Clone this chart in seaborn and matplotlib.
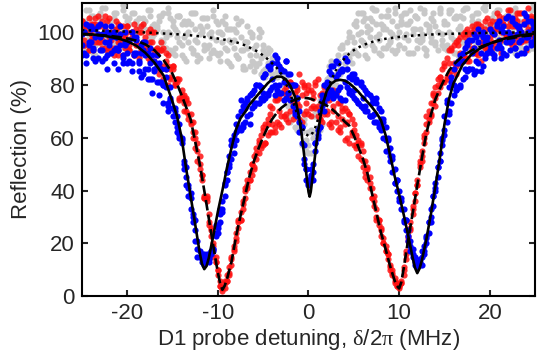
import pandas as pd
import matplotlib
matplotlib.use("Agg")
import matplotlib.pyplot as plt
import seaborn as sns

# --- measured sweeps: detuning (MHz) and reflection (%) ---
DOT_X = [-25, -24.75, -24.5, -24.25, -24, -23.75, -23.5, -23.25, -23, -22.75, -22.5, -22.25, -22, -21.75, -21.5, -21.25, -21, -20.75, -20.5, -20.25,
         -20, -19.75, -19.5, -19.25, -19, -18.75, -18.5, -18.25, -18, -17.75, -17.5, -17.25, -17, -16.75, -16.5, -16.25, -16, -15.75, -15.5, -15.25,
         -15, -14.75, -14.5, -14.25, -14, -13.75, -13.5, -13.25, -13, -12.75, -12.5, -12.25, -12, -11.75, -11.5, -11.25, -11, -10.75, -10.5, -10.25,
         -10, -9.75, -9.5, -9.25, -9, -8.75, -8.5, -8.25, -8, -7.75, -7.5, -7.25, -7, -6.75, -6.5, -6.25, -6, -5.75, -5.5, -5.25,
         -5, -4.75, -4.5, -4.25, -4, -3.75, -3.5, -3.25, -3, -2.75, -2.5, -2.25, -2, -1.75, -1.5, -1.25, -1, -0.75, -0.5, -0.25,
         0, 0.25, 0.5, 0.75, 1, 1.25, 1.5, 1.75, 2, 2.25, 2.5, 2.75, 3, 3.25, 3.5, 3.75, 4, 4.25, 4.5, 4.75,
         5, 5.25, 5.5, 5.75, 6, 6.25, 6.5, 6.75, 7, 7.25, 7.5, 7.75, 8, 8.25, 8.5, 8.75, 9, 9.25, 9.5, 9.75,
         10, 10.25, 10.5, 10.75, 11, 11.25, 11.5, 11.75, 12, 12.25, 12.5, 12.75, 13, 13.25, 13.5, 13.75, 14, 14.25, 14.5, 14.75,
         15, 15.25, 15.5, 15.75, 16, 16.25, 16.5, 16.75, 17, 17.25, 17.5, 17.75, 18, 18.25, 18.5, 18.75, 19, 19.25, 19.5, 19.75,
         20, 20.25, 20.5, 20.75, 21, 21.25, 21.5, 21.75, 22, 22.25, 22.5, 22.75, 23, 23.25, 23.5, 23.75, 24, 24.25, 24.5, 24.75, 25]

# no atoms (grey), three sweeps
GREY_A = [97, 104, 94, 101, 106, 99, 95, 103, 107, 96, 102, 93, 104, 98, 105, 100, 94, 102, 96, 106,
          97, 105, 98, 100, 95, 102, 93, 103, 101, 96, 106, 102, 99, 94, 104, 97, 107, 98, 100, 105,
          104, 94, 100, 106, 91, 98, 103, 96, 107, 92, 101, 89, 99, 105, 95, 102, 90, 100, 93, 104,
          103, 92, 99, 106, 89, 97, 101, 94, 105, 90, 98, 87, 96, 102, 91, 99, 85, 95, 88, 100,
          95, 86, 92, 88, 84, 90, 83, 86, 80, 84, 76, 80, 73, 77, 69, 72, 66, 63, 65, 57,
          57, 63, 60, 68, 64, 72, 70, 77, 75, 83, 79, 88, 84, 91, 86, 94, 88, 96, 90, 98,
          96, 104, 91, 100, 107, 95, 102, 98, 109, 93, 103, 99, 106, 94, 101, 108, 97, 104, 92, 102,
          100, 106, 94, 103, 97, 108, 92, 101, 105, 96, 99, 107, 93, 102, 98, 104, 95, 100, 109, 97,
          103, 95, 107, 99, 92, 105, 97, 101, 108, 94, 100, 96, 106, 98, 93, 104, 100, 109, 95, 102,
          97, 105, 100, 108, 94, 102, 99, 106, 96, 103, 101, 107, 95, 104, 98, 100, 106, 93, 102, 99, 101]
GREY_B = [94, 103, 108, 98, 105, 92, 101, 106, 96, 109, 99, 93, 104, 102, 95, 107, 97, 100, 108, 94,
          94, 103, 107, 98, 104, 92, 100, 105, 95, 108, 98, 92, 103, 101, 94, 106, 96, 99, 107, 93,
          92, 101, 106, 96, 103, 90, 99, 104, 94, 107, 97, 91, 102, 100, 93, 105, 95, 98, 106, 92,
          91, 100, 104, 94, 101, 88, 96, 101, 91, 103, 93, 86, 96, 94, 87, 98, 88, 91, 98, 84,
          85, 91, 94, 85, 90, 79, 85, 87, 77, 85, 75, 68, 75, 72, 64, 72, 62, 62, 67, 55,
          54, 62, 68, 62, 70, 63, 73, 80, 75, 87, 81, 78, 89, 89, 84, 95, 88, 91, 98, 88,
          93, 102, 107, 97, 104, 91, 100, 105, 95, 108, 98, 92, 103, 101, 94, 106, 96, 99, 107, 93,
          95, 104, 107, 99, 103, 92, 101, 106, 97, 109, 98, 94, 103, 101, 96, 107, 96, 100, 108, 95,
          94, 103, 108, 98, 105, 92, 101, 106, 96, 109, 99, 93, 104, 102, 95, 107, 97, 100, 108, 94,
          95, 103, 107, 98, 104, 93, 100, 106, 96, 108, 99, 92, 103, 102, 94, 107, 97, 100, 108, 94, 101]
GREY_C = [104, 93, 100, 108, 97, 106, 91, 102, 105, 95, 109, 98, 92, 103, 107, 96, 101, 94, 110, 99,
          104, 93, 100, 107, 97, 105, 91, 101, 104, 95, 108, 98, 92, 102, 106, 96, 100, 94, 109, 99,
          102, 91, 98, 106, 95, 104, 89, 100, 103, 93, 107, 96, 90, 101, 105, 94, 99, 92, 108, 97,
          100, 89, 96, 103, 93, 101, 87, 97, 100, 90, 104, 93, 86, 96, 100, 89, 94, 87, 101, 90,
          93, 83, 88, 93, 84, 90, 77, 84, 84, 74, 83, 72, 66, 72, 74, 63, 65, 57, 69, 59,
          62, 54, 62, 70, 64, 74, 65, 77, 82, 76, 89, 82, 80, 89, 94, 86, 91, 86, 100, 92,
          103, 92, 99, 107, 96, 105, 90, 101, 104, 94, 108, 97, 91, 102, 106, 95, 100, 93, 109, 98,
          95, 103, 98, 107, 92, 104, 99, 106, 94, 101, 97, 108, 91, 100, 105, 96, 102, 93, 107, 99,
          104, 93, 100, 108, 97, 106, 91, 102, 105, 95, 109, 98, 92, 103, 107, 96, 101, 94, 110, 99,
          99, 105, 93, 101, 108, 96, 104, 91, 102, 106, 95, 109, 98, 92, 103, 107, 96, 101, 94, 110, 100]

# red, three sweeps
RED_A = [104, 97, 102, 93, 99, 103, 96, 106, 98, 94, 101, 104, 94, 99, 91, 101, 103, 96, 98, 94,
         102, 95, 100, 91, 97, 100, 93, 103, 94, 90, 96, 100, 89, 93, 84, 93, 94, 86, 87, 82,
         87, 81, 82, 74, 76, 76, 70, 73, 66, 60, 60, 58, 48, 46, 37, 36, 31, 23, 19, 13,
         10, 6, 3, 3, 8, 9, 14, 17, 24, 26, 32, 33, 40, 41, 47, 46, 53, 52, 59, 56,
         64, 58, 67, 62, 71, 64, 75, 65, 77, 68, 79, 66, 81, 67, 77, 73, 84, 66, 80, 70,
         80, 68, 77, 71, 82, 67, 76, 69, 79, 65, 75, 70, 77, 63, 73, 67, 71, 60, 69, 62,
         65, 56, 59, 52, 55, 47, 49, 41, 41, 34, 33, 27, 25, 20, 19, 14, 12, 8, 6, 4,
         3, 6, 10, 14, 23, 26, 33, 36, 44, 49, 55, 58, 65, 67, 73, 73, 79, 77, 83, 81,
         88, 83, 93, 85, 95, 87, 97, 88, 99, 90, 101, 89, 100, 92, 103, 91, 102, 95, 104, 93,
         98, 104, 95, 101, 106, 97, 103, 99, 108, 96, 102, 105, 98, 107, 100, 104, 97, 109, 101, 103, 99]
RED_B = [104, 95, 102, 93, 103, 98, 105, 96, 102, 97, 106, 93, 98, 100, 93, 104, 96, 102, 91, 98,
         102, 93, 100, 91, 101, 95, 102, 93, 98, 93, 101, 89, 93, 94, 86, 96, 87, 92, 80, 86,
         87, 80, 82, 75, 78, 73, 75, 67, 69, 62, 62, 51, 50, 46, 37, 38, 28, 26, 15, 15,
         8, 4, 2, 5, 6, 11, 12, 19, 21, 28, 29, 36, 37, 44, 44, 50, 49, 56, 54, 61,
         57, 65, 61, 69, 62, 74, 66, 75, 64, 78, 69, 76, 70, 80, 68, 79, 72, 81, 69, 77,
         69, 78, 72, 81, 68, 76, 66, 79, 70, 74, 64, 78, 66, 73, 62, 71, 65, 70, 58, 67,
         57, 61, 53, 57, 49, 51, 44, 45, 37, 36, 30, 29, 23, 22, 17, 16, 11, 10, 5, 5,
         4, 5, 8, 16, 21, 28, 31, 39, 42, 50, 53, 61, 62, 70, 69, 77, 75, 82, 79, 86,
         81, 90, 84, 93, 86, 96, 88, 98, 91, 100, 90, 99, 94, 101, 92, 103, 96, 100, 94, 105,
         103, 96, 101, 107, 94, 100, 105, 98, 102, 108, 99, 96, 104, 101, 107, 97, 103, 100, 106, 98, 104]
RED_C = [102, 95, 100, 105, 97, 93, 103, 99, 96, 104, 94, 100, 105, 97, 94, 101, 91, 99, 102, 95,
         100, 93, 98, 103, 95, 90, 100, 96, 92, 100, 89, 96, 100, 91, 87, 93, 82, 89, 91, 83,
         86, 80, 81, 82, 75, 70, 74, 69, 65, 66, 56, 55, 53, 44, 38, 37, 27, 25, 20, 13,
         10, 4, 3, 6, 6, 8, 15, 18, 22, 29, 29, 35, 41, 42, 44, 50, 48, 54, 58, 57,
         63, 58, 65, 72, 65, 62, 74, 70, 68, 77, 67, 75, 81, 73, 70, 78, 67, 76, 79, 73,
         78, 71, 75, 80, 72, 67, 77, 73, 69, 77, 66, 72, 77, 68, 64, 70, 59, 66, 69, 61,
         63, 57, 58, 58, 51, 45, 48, 43, 37, 38, 29, 29, 26, 20, 17, 16, 10, 9, 7, 4,
         4, 5, 11, 17, 22, 25, 34, 39, 42, 51, 51, 60, 68, 66, 68, 76, 72, 80, 83, 81,
         87, 82, 88, 94, 88, 84, 95, 92, 90, 98, 89, 96, 102, 94, 92, 99, 89, 98, 101, 95,
         101, 94, 99, 104, 96, 92, 103, 99, 96, 104, 95, 102, 107, 99, 96, 103, 93, 101, 105, 99, 104]

# blue, three sweeps
BLUE_A = [99, 92, 103, 95, 101, 90, 98, 102, 93, 99, 90, 100, 95, 102, 93, 98, 93, 102, 90, 95,
          96, 89, 100, 91, 97, 85, 92, 96, 86, 92, 82, 91, 85, 91, 81, 86, 80, 86, 72, 74,
          71, 66, 68, 60, 59, 48, 45, 42, 33, 31, 21, 21, 15, 16, 13, 15, 15, 17, 17, 23,
          27, 28, 36, 38, 47, 49, 57, 57, 62, 68, 63, 72, 66, 75, 69, 77, 72, 80, 73, 79,
          83, 75, 87, 78, 88, 76, 90, 80, 86, 74, 89, 77, 84, 72, 80, 68, 70, 58, 57, 44,
          44, 45, 50, 58, 63, 70, 72, 80, 75, 85, 78, 87, 76, 88, 79, 86, 74, 89, 77, 84,
          84, 74, 81, 72, 79, 70, 77, 68, 75, 66, 73, 64, 70, 60, 64, 55, 56, 47, 48, 40,
          40, 33, 33, 25, 25, 17, 18, 13, 12, 13, 15, 16, 23, 24, 33, 34, 43, 45, 54, 57,
          68, 66, 79, 73, 86, 78, 89, 80, 92, 83, 95, 86, 97, 84, 98, 88, 99, 87, 96, 92,
          101, 92, 99, 94, 104, 90, 100, 96, 106, 93, 97, 103, 91, 101, 97, 107, 94, 100, 104, 96, 102]
BLUE_B = [91, 100, 88, 96, 102, 94, 89, 99, 103, 89, 96, 86, 99, 92, 100, 94, 86, 95, 88, 100,
          88, 97, 85, 92, 98, 89, 83, 93, 96, 82, 88, 77, 89, 81, 88, 81, 73, 79, 70, 79,
          68, 70, 62, 61, 60, 51, 42, 41, 39, 28, 25, 15, 17, 13, 16, 14, 13, 16, 18, 27,
          24, 31, 33, 42, 44, 53, 52, 61, 59, 64, 70, 65, 73, 68, 76, 71, 78, 73, 80, 75,
          74, 84, 77, 86, 79, 91, 78, 87, 77, 85, 75, 84, 74, 80, 70, 75, 62, 64, 50, 48,
          42, 48, 47, 55, 60, 64, 74, 73, 81, 76, 84, 75, 89, 78, 85, 74, 90, 79, 83, 76,
          75, 82, 73, 80, 71, 78, 70, 76, 68, 74, 66, 71, 63, 67, 59, 59, 51, 52, 43, 44,
          36, 37, 29, 29, 21, 21, 15, 15, 11, 14, 12, 19, 20, 28, 30, 38, 40, 49, 51, 60,
          61, 74, 70, 81, 76, 88, 79, 91, 82, 94, 85, 97, 86, 99, 89, 101, 85, 100, 90, 98,
          93, 100, 90, 103, 95, 101, 92, 105, 97, 99, 104, 94, 102, 96, 100, 92, 106, 98, 95, 103, 97]
BLUE_C = [95, 100, 91, 102, 96, 93, 101, 90, 98, 93, 102, 91, 96, 98, 88, 98, 93, 99, 91, 96,
          92, 97, 88, 98, 92, 88, 95, 84, 91, 86, 94, 82, 86, 87, 76, 86, 80, 83, 73, 75,
          71, 71, 64, 65, 58, 50, 49, 38, 37, 30, 29, 18, 15, 15, 12, 16, 14, 17, 18, 24,
          26, 33, 32, 43, 47, 50, 59, 54, 65, 63, 74, 64, 71, 74, 65, 77, 73, 80, 73, 79,
          77, 84, 76, 87, 82, 80, 88, 77, 85, 81, 89, 77, 80, 80, 69, 75, 66, 64, 52, 48,
          43, 46, 44, 58, 61, 64, 76, 70, 79, 77, 87, 77, 83, 84, 75, 85, 81, 86, 78, 82,
          78, 81, 73, 81, 75, 72, 77, 68, 73, 69, 75, 65, 67, 66, 55, 60, 53, 53, 43, 44,
          37, 36, 28, 29, 23, 19, 16, 12, 13, 12, 17, 17, 22, 28, 28, 38, 41, 49, 51, 59,
          63, 73, 69, 83, 80, 78, 88, 79, 89, 86, 96, 86, 92, 94, 85, 96, 92, 98, 91, 96,
          95, 100, 91, 102, 97, 94, 102, 91, 100, 96, 105, 94, 99, 102, 92, 103, 98, 104, 96, 101, 98]

# --- fitted curves ---
FIT_X = [-25, -24, -23, -22, -21, -20, -19, -18, -17, -16, -15.5, -15, -14.5, -14, -13.5, -13, -12.5, -12,
         -11.75, -11.5, -11.25, -11, -10.5, -10, -9.75, -9.5, -9.25, -9, -8.5, -8, -7.5, -7, -6.5, -6,
         -5.5, -5, -4.5, -4, -3.5, -3, -2.5, -2, -1.5, -1, -0.75, -0.5, -0.25, 0, 0.125, 0.25, 0.5, 0.75,
         1, 1.5, 2, 2.5, 3, 3.5, 4, 4.5, 5, 5.5, 6, 6.5, 7, 7.5, 8, 8.5, 9, 9.5, 9.75, 10, 10.25, 10.5,
         11, 11.5, 11.75, 12, 12.25, 12.5, 13, 13.5, 14, 14.5, 15, 15.5, 16, 17, 18, 19, 20, 21, 22, 23, 24, 25]
BLUE_FIT = [99.2, 99.0, 98.6, 98.1, 97.4, 96.4, 94.7, 92.0, 88.3, 83.5, 78.5, 73.5, 68.0, 60.0, 48.3, 37.8, 27.2, 16.5,
            12.3, 10.3, 11.5, 14.5, 23.0, 32.0, 36.0, 40.0, 44.2, 48.5, 56.0, 63.0, 67.3, 69.6, 72.5, 74.5,
            76.5, 78.5, 80.5, 82.0, 83.0, 83.0, 82.0, 79.5, 75.5, 67.0, 61.0, 54.0, 46.5, 39.5, 37.7, 39.5, 46.5, 54.0,
            61.0, 71.5, 77.5, 80.3, 81.5, 81.8, 81.5, 80.5, 79.0, 77.3, 75.3, 73.5, 71.5, 69.3, 66.5, 61.0, 53.5, 45.5, 42.0, 38.5, 34.7, 31.0,
            23.0, 14.5, 10.8, 8.8, 10.5, 13.5, 21.5, 31.0, 41.5, 52.5, 65.0, 74.5, 80.5, 87.5, 91.5, 93.8, 95.5, 96.8, 97.7, 98.4, 98.9, 99.2]
RED_FIT = [99.0, 98.9, 98.7, 98.4, 98.0, 97.4, 96.6, 95.2, 93.0, 89.3, 86.8, 84.0, 80.2, 76.0, 71.5, 66.8, 58.5, 50.0,
           45.0, 40.0, 34.8, 29.5, 19.0, 9.0, 5.0, 2.5, 4.0, 6.5, 13.0, 22.5, 30.5, 38.0, 45.5, 51.3,
           56.0, 60.2, 64.0, 67.0, 69.3, 71.2, 72.5, 73.5, 74.3, 74.8, 74.9, 75.0, 74.9, 74.8, 74.7, 74.6, 74.3, 74.0,
           73.6, 73.0, 72.1, 71.0, 69.5, 67.8, 66.0, 64.5, 60.8, 56.5, 52.0, 46.5, 39.0, 31.5, 24.0, 18.0, 11.5, 6.0, 4.0, 3.0, 5.5, 10.5,
           21.5, 31.5, 36.8, 42.0, 47.0, 52.0, 61.5, 68.5, 74.5, 78.5, 82.0, 85.3, 87.5, 90.8, 92.9, 94.3, 95.5, 96.5, 97.3, 97.9, 98.4, 98.7]
GREY_FIT = [100.6, 100.5, 100.4, 100.2, 100.1, 100.0, 99.8, 99.7, 99.5, 99.3, 99.2, 99.1, 99.0, 98.9, 98.8, 98.6, 98.4, 98.2,
            98.1, 98.0, 97.9, 97.8, 97.6, 97.4, 97.25, 97.1, 96.95, 96.8, 96.4, 96.0, 95.5, 94.8, 94.0, 93.2,
            92.2, 91.0, 89.6, 88.0, 86.3, 84.0, 80.5, 76.5, 71.5, 66.5, 64.3, 62.5, 61.2, 60.6, 60.5, 60.9, 62.0, 63.8,
            66.4, 71.9, 77.2, 81.7, 85.2, 87.9, 90.0, 91.7, 93.0, 94.0, 94.9, 95.5, 96.1, 96.6, 97.0, 97.3, 97.5, 97.8, 97.9, 98.0, 98.1, 98.2,
            98.3, 98.5, 98.55, 98.6, 98.65, 98.7, 98.8, 98.9, 99.0, 99.1, 99.1, 99.2, 99.2, 99.3, 99.4, 99.5, 99.5, 99.6, 99.6, 99.7, 99.7, 99.8]

X_TICKS = [-20, -10, 0, 10, 20]
Y_TICKS = [0, 20, 40, 60, 80, 100]

sns.set_theme(style="ticks")
plt.rcParams['font.family'] = ['Liberation Sans', 'DejaVu Sans']
plt.rcParams['mathtext.fontset'] = 'custom'
plt.rcParams['mathtext.rm'] = 'Liberation Serif'
plt.rcParams['axes.unicode_minus'] = False

fig = plt.figure(figsize=(5.46, 3.58), dpi=100)
ax = fig.add_axes([0.150, 0.172, 0.830, 0.821])

dots = pd.DataFrame({'x': DOT_X, 'grey_a': GREY_A, 'grey_b': GREY_B, 'grey_c': GREY_C,
                     'red_a': RED_A, 'red_b': RED_B, 'red_c': RED_C,
                     'blue_a': BLUE_A, 'blue_b': BLUE_B, 'blue_c': BLUE_C})
fits = pd.DataFrame({'x': FIT_X, 'grey': GREY_FIT, 'red': RED_FIT, 'blue': BLUE_FIT})

dot_kw = dict(s=20, linewidth=0, legend=False, ax=ax)
for col in ['grey_a', 'grey_b', 'grey_c']:
    sns.scatterplot(data=dots, x='x', y=col, color='#c8c8c8', **dot_kw)
for col in ['red_a', 'red_b', 'red_c']:
    sns.scatterplot(data=dots, x='x', y=col, color='#ff1010', alpha=0.85, **dot_kw)
for col in ['blue_a', 'blue_b', 'blue_c']:
    sns.scatterplot(data=dots, x='x', y=col, color='#0000ff', **dot_kw)

line_kw = dict(estimator=None, sort=False, color='black', legend=False, ax=ax)
sns.lineplot(data=fits, x='x', y='grey', lw=1.8, linestyle=(0, (1, 1.7)), **line_kw)
sns.lineplot(data=fits, x='x', y='red', lw=1.9, linestyle=(0, (4, 1.6)), **line_kw)
sns.lineplot(data=fits, x='x', y='blue', lw=1.9, **line_kw)

ax.set_xlim(-25, 25)
ax.set_ylim(0, 111)
ax.set_xticks(X_TICKS)
ax.set_yticks(Y_TICKS)
ax.tick_params(direction='in', top=True, right=True, length=4, width=1.5,
               labelsize=16, pad=5)
for sp in ax.spines.values():
    sp.set_linewidth(1.5)
    sp.set_color('black')
ax.set_xlabel(r'D1 probe detuning, $\mathrm{\delta}$/2$\mathrm{\pi}$ (MHz)', fontsize=16, labelpad=2)
ax.set_ylabel('Reflection (%)', fontsize=16, labelpad=4)

fig.savefig('out.png', dpi=100)
